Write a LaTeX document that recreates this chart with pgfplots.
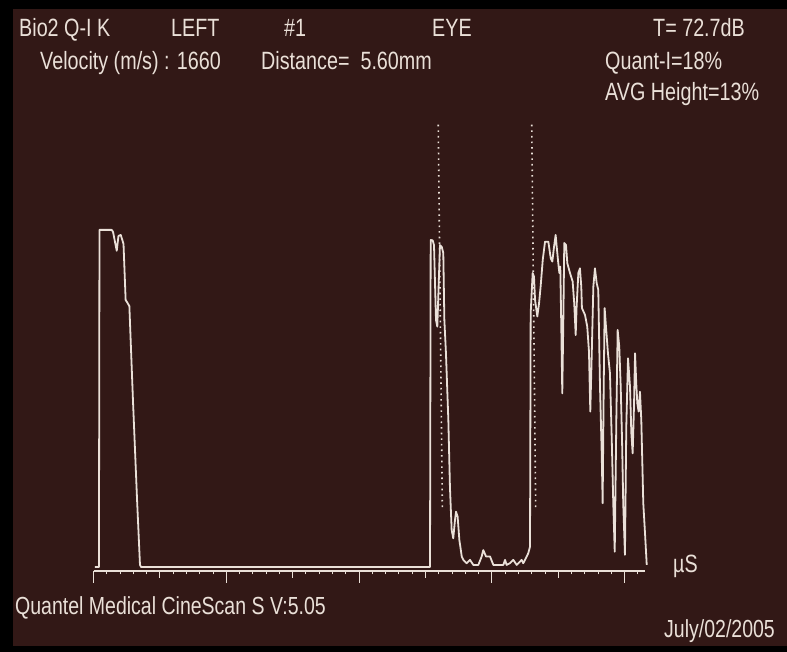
\documentclass[border=0pt]{standalone}
\usepackage{fontspec}
\setmainfont[FakeStretch=0.79]{Liberation Sans}
\usepackage{pgfplots}
\pgfplotsset{compat=1.18}
\definecolor{bg}{RGB}{50,24,22}
\definecolor{fg}{RGB}{234,224,216}
\begin{document}
\begin{tikzpicture}[x=1bp,y=1bp]
\fill[black] (0,0) rectangle (787,652);
\fill[bg] (13,6) rectangle (787,643);
\begin{axis}[at={(93.5bp,81bp)}, anchor=south west, scale only axis,
  width=551.1bp, height=451bp, xmin=0, xmax=41.5, ymin=-1.2, ymax=132.6,
  clip=false, axis y line=none, axis x line*=bottom,
  x axis line style={fg, line width=1.3bp},
  xtick={0,10,20,30,40}, minor xtick={1,...,41}, xticklabels={},
  extra x ticks={5,15,25,35}, extra x tick labels={},
  extra x tick style={major tick length=7bp},
  tick align=outside, major tick length=12bp, minor tick length=3.5bp,
  tick style={fg, line width=1bp}]
\addplot[fg, line width=1.8bp, line join=round] coordinates {
(0.1,0) (0.41,0) (0.45,100) (1.37,100) (1.47,99.4) (1.75,93.8) (1.88,98.2) (2.05,98.5)
(2.17,97.0) (2.26,95.8) (2.42,79.2) (2.52,78.6) (2.70,77.4) (2.97,49.6) (3.28,19.9)
(3.50,0.6) (3.58,0) (25.30,0)
(25.34,0) (25.39,97.0) (25.54,96.9) (25.64,95.5) (25.79,73.3) (25.89,71.3) (26.09,95.5)
(26.22,95.0) (26.34,93.1) (26.42,73.3) (26.54,63.5) (26.72,43.6) (26.84,23.8) (26.97,11.0)
(27.09,8.5) (27.22,13.9) (27.30,16.4) (27.42,14.9) (27.55,8.0) (27.73,3.1) (27.85,2.1)
(28.10,1.1) (28.35,2.1) (28.60,0.6) (28.98,0.6) (29.23,3.1) (29.35,5.0) (29.56,3.1)
(29.86,3.1) (30.11,0.6) (30.86,0.6) (30.99,2.1) (31.11,0.6) (31.36,1.1) (31.61,2.1)
(31.87,0.6) (31.99,1.1) (32.24,2.1) (32.36,1.1) (32.49,2.1) (32.62,3.1) (32.74,4.1)
(32.87,6.0) (32.92,75.3) (33.07,87.2) (33.17,86.1)
(33.25,79.2) (33.42,74.3) (33.55,78.2) (33.67,83.2) (33.83,91.1) (34.00,96.5) (34.25,96.5)
(34.43,91.6) (34.55,90.6) (34.68,95.0) (34.80,98.5) (34.88,95.0) (35.00,90.1) (35.08,87.2)
(35.15,89.1) (35.23,70.3) (35.30,51.5) (35.38,73.3) (35.45,96.1) (35.58,95.5) (35.68,90.1)
(35.88,87.2) (36.08,84.7) (36.20,78.2) (36.31,68.8) (36.38,77.2) (36.51,87.2) (36.63,88.6)
(36.73,83.2) (36.78,76.8) (37.01,74.8) (37.18,71.3) (37.31,63.9) (37.41,46.1) (37.52,63.4)
(37.64,83.2) (37.76,88.6) (37.89,84.2) (38.01,82.2) (38.14,53.5) (38.27,33.7) (38.34,18.9)
(38.42,53.5) (38.49,76.8) (38.59,71.3) (38.74,63.4) (38.89,57.5) (39.02,38.7) (39.14,18.9)
(39.25,4.5) (39.37,43.6) (39.47,70.3) (39.59,65.4) (39.70,53.5) (39.80,37.7) (39.89,18.9)
(40.02,3.6) (40.12,41.6) (40.25,61.9) (40.40,53.5) (40.50,39.7) (40.60,33.7) (40.70,47.6)
(40.78,63.4) (40.87,54.5) (40.95,48.6) (41.05,46.1) (41.15,52.0) (41.25,43.6) (41.40,18.9)
(41.53,10.0) (41.66,0.6)
};
\addplot[fg, line width=1.6bp, dash pattern=on 1.6bp off 4bp] coordinates {(25.96,131.2) (26.27,16.9)};
\addplot[fg, line width=1.6bp, dash pattern=on 1.6bp off 4bp] coordinates {(33.00,131.2) (33.30,16.9)};
\end{axis}
\begin{scope}[every node/.style={anchor=base west, inner sep=0pt, text=fg, font=\fontsize{25bp}{29bp}\selectfont}]
\node at (19,615) {Bio2 Q-I K};
\node at (171,615) {LEFT};
\node at (284,615) {\#1};
\node at (432,615) {EYE};
\node at (653,615) {T= 72.7dB};
\node at (40,582) {Velocity (m/s) : 1660};
\node at (261,582) {Distance=~~5.60mm};
\node at (605,582) {Quant-I=18\%};
\node at (605,551) {AVG Height=13\%};
\node at (673,79) {µS};
\node[font=\fontsize{24.7bp}{28bp}\selectfont] at (15,37) {Quantel Medical CineScan S V:5.05};
\node[font=\fontsize{24.7bp}{28bp}\selectfont] at (664,14) {July/02/2005};
\end{scope}
\end{tikzpicture}
\end{document}
